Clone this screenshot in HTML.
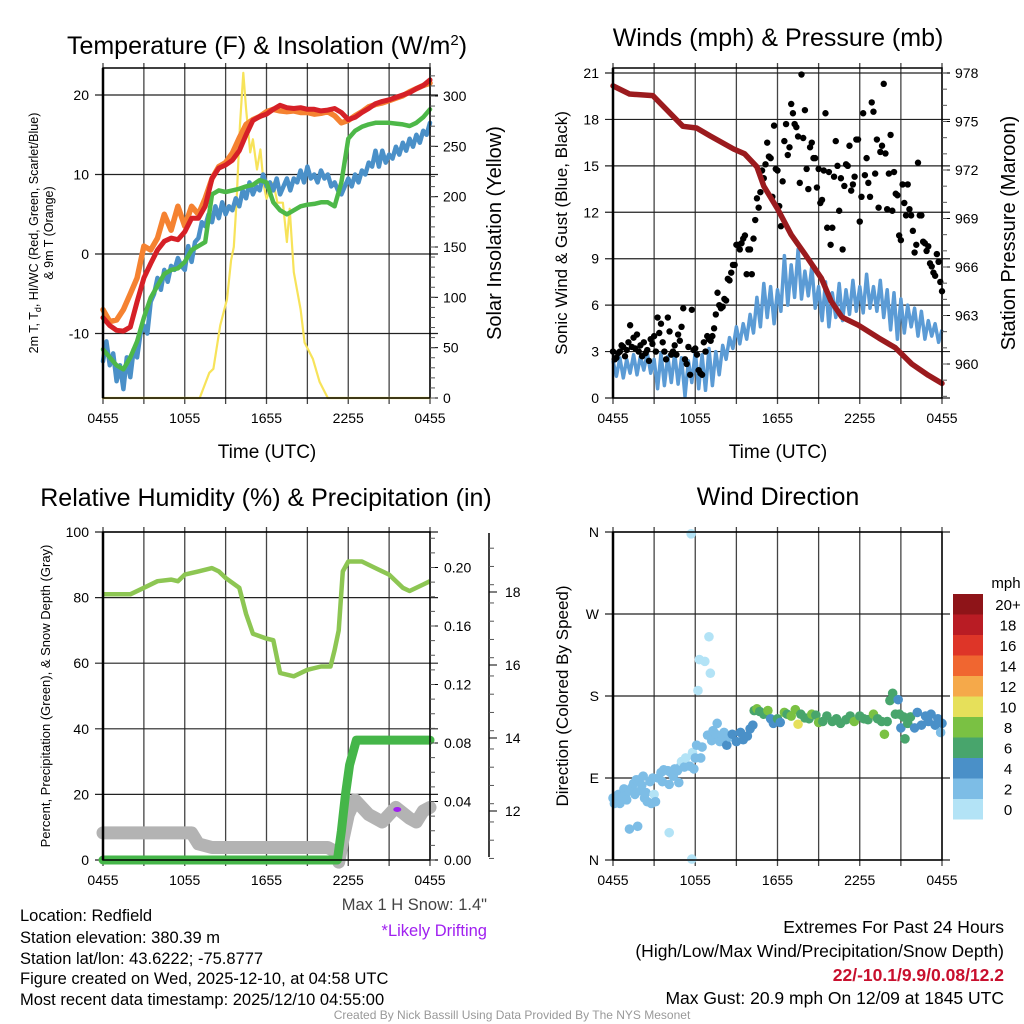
<!DOCTYPE html>
<html><head><meta charset="utf-8"><style>
html,body{margin:0;padding:0;background:#fff}
svg{display:block;font-family:"Liberation Sans",sans-serif}
</style></head><body>
<svg id="c" width="1024" height="1024" viewBox="0 0 1024 1024" xmlns="http://www.w3.org/2000/svg">
<g id="grid"></g><g id="marks"></g><g id="axes"></g>
<g font-size="25" text-anchor="middle" fill="#000">
<text x="267" y="54">Temperature (F) &amp; Insolation (W/m<tspan dy="-9" font-size="15">2</tspan><tspan dy="9">)</tspan></text>
<text x="778" y="46">Winds (mph) &amp; Pressure (mb)</text>
<text x="266" y="506">Relative Humidity (%) &amp; Precipitation (in)</text>
<text x="778" y="505">Wind Direction</text>
</g>
<g font-size="19" text-anchor="middle">
<text x="267" y="458">Time (UTC)</text>
<text x="778" y="458">Time (UTC)</text>
</g>
<text transform="translate(38,233) rotate(-90)" font-size="12.5" text-anchor="middle">2m T, T<tspan font-size="9" dy="3">d</tspan><tspan dy="-3">, HI/WC (Red, Green, Scarlet/Blue)</tspan></text>
<text transform="translate(53,233) rotate(-90)" font-size="12.5" text-anchor="middle">&amp; 9m T (Orange)</text>
<text transform="translate(501,233) rotate(-90)" font-size="20" text-anchor="middle">Solar Insolation (Yellow)</text>
<text transform="translate(567,233) rotate(-90)" font-size="17" text-anchor="middle">Sonic Wind &amp; Gust (Blue, Black)</text>
<text transform="translate(1015,233) rotate(-90)" font-size="20" text-anchor="middle">Station Pressure (Maroon)</text>
<text transform="translate(50,696) rotate(-90)" font-size="13" text-anchor="middle">Percent, Precipitation (Green), &amp; Snow Depth (Gray)</text>
<text transform="translate(568,696) rotate(-90)" font-size="17" text-anchor="middle">Direction (Colored By Speed)</text>
<g font-size="16.5">
<text x="20" y="921">Location: Redfield</text>
<text x="20" y="943">Station elevation: 380.39 m</text>
<text x="20" y="964">Station lat/lon: 43.6222; -75.8777</text>
<text x="20" y="984">Figure created on Wed, 2025-12-10, at 04:58 UTC</text>
<text x="20" y="1005">Most recent data timestamp: 2025/12/10 04:55:00</text>
<text x="487" y="910" text-anchor="end" fill="#444">Max 1 H Snow: 1.4"</text>
<text x="487" y="936" text-anchor="end" fill="#a020f0">*Likely Drifting</text>
</g>
<g font-size="17.5">
<text x="1004" y="933" text-anchor="end">Extremes For Past 24 Hours</text>
<text x="1004" y="957" text-anchor="end">(High/Low/Max Wind/Precipitation/Snow Depth)</text>
<text x="1004" y="981" text-anchor="end" fill="#c8102e" font-weight="bold">22/-10.1/9.9/0.08/12.2</text>
<text x="1004" y="1004" text-anchor="end">Max Gust: 20.9 mph On 12/09 at 1845 UTC</text>
</g>
<text x="512" y="1019" font-size="12" fill="#999" text-anchor="middle">Created By Nick Bassill Using Data Provided By The NYS Mesonet</text>
</svg>
<script>
// ---- data ----
const xTickLabels = ["0455","1055","1655","2255","0455"];
const tempRed = [-8,-9,-9.6,-9.7,-9.2,-6,-3,-1.2,0.5,1.6,2,1.8,2.8,4.5,4.5,6,9.5,10.8,11.2,11.8,13,15,16.8,17.3,17.6,18.2,18.7,18.4,18.3,18.4,18.2,18.2,18,18.1,18.3,17.8,16.9,17.2,17.8,18.3,18.9,19.2,19.4,19.7,20,20.3,20.8,21.2,21.9];
const tempOrange = [-7,-8.5,-8.3,-7,-5,-3,1,0.5,2,5,3,6,3.5,6,5,7,9.5,11,11.5,12.7,14.6,16.3,16.9,17.3,17.9,18.2,18,17.9,18,17.8,17.8,17.6,17.7,17.9,17.4,16.5,16.8,17.4,17.9,18.5,18.8,19,19.3,19.6,19.9,20.4,20.8,21.2,21.5];
const dewGreen = [-12,-13,-14,-14.5,-13,-11,-8,-5.5,-4,-2.5,-2,-1.8,-1,0.5,1,1.5,7.5,8,7.8,8,8.2,8.5,8.7,9.3,9,6.5,5.5,5,5.5,6,6.2,6.3,6.5,6.5,6,9,14.5,15.5,16,16.3,16.5,16.5,16.5,16.4,16.3,16.1,16.5,17.2,18.2];
const chillBlue = [-13.5,-11,-14,-12.5,-16,-14,-17,-13,-15.5,-12,-13,-10,-9,-10,-6,-5,-3,-4.5,-2,-3.5,-1.5,-2,-0.5,-1.5,-2,1,-1,1.5,2,4,3.5,5,4,6,4.5,6.5,5,6,5.5,7,6,8,7,9,7.5,8.5,8,10,8.5,9,8,9.5,7.5,8.5,9.5,8,9.5,9,10.5,9,11,9.5,10,9,10.5,9.5,10,8.5,9,8,7.5,8.5,9.5,8.5,10,9,10.5,10,11.5,11,13,11,13,11.5,12.5,12,13.5,12.5,14,13,14.5,13.5,15,14,15.5,15,16.5];
const solarT = [0,7.1,7.8,8.1,8.6,9.1,9.4,9.6,9.8,10.05,10.3,10.5,10.8,11.0,11.3,11.55,11.8,12,12.5,12.8,13.2,13.5,13.7,14,14.5,14.8,15.4,15.9,16.5,24];
const solarV = [0,0,25,29,72,98,137,150,194,270,323,287,244,257,227,247,211,198,214,194,194,155,188,125,88,55,39,16,0,0];
const windBlue = [2.4,1.4,2.6,1.3,2.5,1.6,2.8,1.5,2.7,1.8,2.9,1.6,2.5,0.6,2.9,0.8,2.7,1.0,2.9,0.9,2.6,0.1,2.4,1.0,3.0,0.6,2.8,0.5,3.2,0.8,3.0,1.5,3.4,2.5,3.9,3.2,4.6,3.5,4.8,3.8,5.4,4.2,6.5,4.6,7.4,5.2,7.2,4.8,7.0,5.6,9.2,6.0,8.6,6.5,9.6,6.4,8.2,6.6,8.5,5.8,7.2,5.0,7.5,4.6,6.8,5.2,7.4,5.0,7.0,5.4,7.6,5.6,7.2,5.5,8.0,5.8,7.2,5.6,7.6,5.2,7.0,4.4,6.8,3.8,6.4,4.2,6.0,4.6,5.8,4.0,5.6,3.8,5.0,4.0,4.8,3.6,4.4];
const gustA = [3,2.6,3,3.3,3.1,4.7,3.9,4.1,3.4,3.6,3.1,3.8,4,5.2,4.8,3,5.2,2.8,3.4,4.1,4.6,2.5,3.3,5.7,3.2,1.8,1.5,3,3.8,4,5.4,6,5.9,6.3,7.6,8.6,9.9,9.6,10.3,8,9.6,10.3,12.9,13.3,14.2,16.5,15.5,17.6,14.7,11.1,16.6,15.7,19,17.7,16.9,20.9,18.6,13.5,16.5,15.5,14.8,12.8,18.4,14.6,11,16.6,12.1,9.6,15.1,16.3,13.8,16.7,11.4,18.4,15.5,13,18.5,16.7,15.9,20.3,12.2,17,14.6,13.1,10.2,12.6,13.8,11.8,9.4,15.2,11.8,10,9.8,8.5,7.9,8.8,6.9];
const gustB = [2.5,2.9,3.4,2.7,3.6,3.3,3.2,3,2.7,2.9,2.4,3.5,3,4.2,3.6,2.5,4.3,3,2.8,3.7,5.8,2.2,1.5,3.1,2.8,1.6,3.6,4,3.7,4.5,6.8,5.8,6.4,7.7,8.1,8.6,9.9,10,10.5,9.6,8,11.5,12.3,14.7,15.1,15.6,13,14.8,12.4,14,17.7,16.2,18.4,17.5,13.9,16.8,14.8,16.2,15.5,13.6,12.6,14.7,11,9.9,14.3,15,14.2,13.7,15,13.4,14.3,16.7,13,14.4,13.9,19.1,14.5,12.3,16.3,15.8,14.5,12.1,13.2,10.5,13.8,11.8,12.2,10.8,9.9,11.8,10.1,9.5,8.7,8.1,9.3,7.5];
const presT = [0,1.2,2.9,5.1,6.1,7.1,8.8,9.6,10.5,11,12,13,14,15.2,15.9,16.7,17.9,19.4,20.6,21.8,23,24];
const presV = [977.2,976.7,976.6,974.7,974.6,974.1,973.3,973,972.2,971,969.6,968,966.8,965.3,963.9,962.9,962.4,961.6,961,960,959.3,958.8];
const rhT = [0,2,3,4,5,5.5,6,7,8,8.5,9,10,10.5,11,12,12.5,13,14,15,16,16.7,17,17.3,17.6,18,19,20,21,22,22.5,23.5,24];
const rhV = [81,81,83,85,85.5,85,87,88,89,88,86,83,75,69,67.5,67,57,56,58,59,59,64,70,88,91,91,89,87,83,82,84,85];
const precipT = [0,17.2,17.5,17.8,18.1,18.6,24];
const precipV = [0,0,0.02,0.045,0.065,0.082,0.082];
const snowT = [0,6.5,7,8,12,16.5,17,17.3,17.6,18,18.5,19.5,20.5,21,21.5,22.5,23,23.5,24];
const snowV = [11.4,11.4,11.1,11,11,11,10.9,10.6,11.2,11.9,12.3,11.9,11.7,11.9,12.1,11.8,11.7,12,12.1];
const dirT = [0,0.1,0.2,0.3,0.4,0.5,0.6,0.8,0.9,1.0,1.2,1.3,1.4,1.5,1.6,1.7,1.8,1.9,2.0,2.1,2.2,2.3,2.4,2.5,2.7,2.8,2.9,3.0,3.1,3.3,3.5,3.6,3.7,4.0,4.1,4.1,4.2,4.4,4.5,4.7,4.8,4.9,5.0,5.2,5.3,5.6,5.7,5.75,5.8,5.9,6.0,6.1,6.2,6.3,6.4,6.5,6.7,6.9,7.0,7.1,7.2,7.3,7.5,7.6,7.8,8.0,8.1,8.3,8.5,8.7,9.0,9.3,9.5,9.8,10.0,10.2,10.3,10.5,10.7,11.0,11.3,11.5,11.7,12.0,12.2,12.5,12.7,13.0,13.3,13.5,13.7,14.0,14.3,14.5,14.8,15.0,15.3,15.6,16.0,16.3,16.6,17.0,17.3,17.6,18.0,18.3,18.6,19.0,19.3,19.6,19.8,20.0,20.2,20.4,20.6,20.8,20.9,21.0,21.2,21.3,21.5,21.7,22.0,22.2,22.5,22.8,23.0,23.2,23.5,23.7,24,23.9];
const dirD = [68,62,70,66,72,62,69,78,70,66,34,76,80,84,72,88,37,88,76,82,92,68,74,64,86,62,90,72,64,90,96,86,99,98,83,30,96,92,100,98,85,102,108,102,112,103,358,1,118,100,112,126,186,220,112,124,218,137,245,205,131,142,138,150,130,134,140,126,135,138,130,140,132,136,144,148,164,166,163,160,164,155,150,155,151,162,160,158,165,149,160,156,155,160,159,151,152,158,152,155,150,154,158,152,158,155,154,160,155,152,138,152,175,183,160,176,160,145,157,133,150,157,145,162,148,158,152,160,148,155,150,140];
const dirS = [2,2,2,2,2,2,2,2,2,2,2,2,2,2,2,2,2,2,2,2,3,2,2,2,2,2,2,1,2,2,2,2,2,2,2,1,2,2,2,2,2,2,1,2,1,2,1,1,1,2,2,2,1,1,2,2,1,2,1,1,2,2,3,2,3,3,2,4,3,4,4,4,4,4,4,4,7,8,6,7,8,4,5,6,4,9,7,8,8,10,6,7,6,8,7,8,6,7,6,7,6,6,7,9,7,6,6,8,6,6,8,6,7,7,6,4,6,4,7,6,6,7,4,4,4,4,4,4,4,4,4,3];
const speedBins = ["0","2","4","6","8","10","12","14","16","18","20+"];
const speedColors = ["#b3e3f6","#7dbde6","#4a90c8","#48a56c","#7ac143","#e6e05a","#f5a94a","#f06630","#de3528","#b91c24","#8e1418"];

// ---- helpers ----
const NS="http://www.w3.org/2000/svg";
const G=document.getElementById('grid'),M=document.getElementById('marks'),A=document.getElementById('axes');
function mk(tag,parent,attrs){const e=document.createElementNS(NS,tag);for(const k in attrs)e.setAttribute(k,attrs[k]);parent.appendChild(e);return e;}
function lin(d0,d1,r0,r1){return v=>r0+(v-d0)*(r1-r0)/(d1-d0);}
function evenT(n){const a=[];for(let i=0;i<n;i++)a.push(i*24/(n-1));return a;}
function pathD(ts,vs,xs,ys){return ts.map((t,i)=>(i?'L':'M')+xs(t).toFixed(1)+' '+ys(vs[i]).toFixed(1)).join(' ');}
function txt(parent,x,y,s,anchor,size){const e=mk('text',parent,{x:x,y:y,'text-anchor':anchor,'font-size':size||14});e.textContent=s;return e;}

function panel(x0,x1,yT,yB,yTicks,yLab,yS,name){
  const xs=lin(0,24,x0,x1);
  for(let t=0;t<=24;t+=3){const l=mk('line',G,{x1:xs(t),x2:xs(t),y1:yT-5,y2:yB+6,stroke:'#444','stroke-width':1.3});
    }
  yTicks.forEach((v,i)=>{const y=yS(v);const l=mk('line',G,{x1:x0-8,x2:x1+8,y1:y,y2:y,stroke:'#222','stroke-width':1.2});
    
    const tx=txt(A,x0-14,y+5,yLab[i],'end');});
  const f=mk('rect',A,{x:x0,y:yT,width:x1-x0,height:yB-yT,fill:'none',stroke:'#000','stroke-width':1.5});
  
  const yl=mk('line',A,{x1:x0,x2:x0,y1:yT,y2:yB,stroke:'#000','stroke-width':2.5});
  
  xTickLabels.forEach((s,i)=>{const tx=txt(A,xs(i*6),yB+25,s,'middle');});
  return xs;
}
function rightAxis(x,yT,yB,ticks,labels,ys,minorStep,lo,hi,name,lx){
  ticks.forEach((v,i)=>{const y=ys(v);mk('line',A,{x1:x,x2:x+8,y1:y,y2:y,stroke:'#000'});
    const tx=txt(A,lx||x+13,y+5,labels[i],'start');});
  for(let v=lo;v<=hi+1e-9;v+=minorStep){const y=ys(v);if(y>=yT-1&&y<=yB+1)mk('line',A,{x1:x,x2:x+5,y1:y,y2:y,stroke:'#555'});}
}

// ---- Panel 1: temperature ----
const yT1=lin(0,10,254,174.5);
const xs1=panel(103,430,68,398,[-10,0,10,20],["-10","0","10","20"],yT1,'temp');
const yS1=lin(0,300,398,96);
rightAxis(430,68,398,[0,50,100,150,200,250,300],["0","50","100","150","200","250","300"],yS1,10,0,330,'solar');
const t49=evenT(49);
const t97=evenT(97);
[['solar',solarT,solarV,yS1,'#f7e35a',2.2],['orange-9m-temp',t49,tempOrange,yT1,'#f58231',5.5],['blue-windchill',t97,chillBlue,yT1,'#4a90c8',4.5],['green-dewpoint',t49,dewGreen,yT1,'#4db848',4.5],['red-temp',t49,tempRed,yT1,'#d62027',5]].forEach(s=>{
  const p=mk('path',M,{d:pathD(s[1],s[2],xs1,s[3]),fill:'none',stroke:s[4],'stroke-width':s[5],'stroke-linejoin':'round','stroke-linecap':'round'});
  });

// ---- Panel 2: winds ----
const yW=lin(0,21,398,73);
const xs2=panel(613,942,68,398,[0,3,6,9,12,15,18,21],["0","3","6","9","12","15","18","21"],yW,'wind');
const yP=lin(960,978,364,73);
rightAxis(942,68,398,[960,963,966,969,972,975,978],["960","963","966","969","972","975","978"],yP,1,957,979,'pressure');
{const p=mk('path',M,{d:pathD(t97,windBlue,xs2,yW),fill:'none',stroke:'#5b9bd5','stroke-width':3.5,'stroke-linejoin':'round'});
}
const tg=evenT(gustA.length);
gustA.forEach((v,i)=>{const c=mk('circle',M,{cx:xs2(tg[i]),cy:yW(v),r:3.2,fill:'#000'});
});
gustB.forEach((v,i)=>{const c=mk('circle',M,{cx:xs2(tg[i]+0.125),cy:yW(v),r:3.2,fill:'#000'});
});
{const p=mk('path',M,{d:pathD(presT,presV,xs2,yP),fill:'none',stroke:'#9b1b1e','stroke-width':5.5,'stroke-linejoin':'round','stroke-linecap':'round'});
}

// ---- Panel 3: humidity ----
const yR=lin(0,100,860,532);
const xs3=panel(103,430,532,860,[0,20,40,60,80,100],["0","20","40","60","80","100"],yR,'humidity');
const yPr=lin(0,0.2,860,567.5);
rightAxis(430,532,860,[0,0.04,0.08,0.12,0.16,0.20],["0.00","0.04","0.08","0.12","0.16","0.20"],yPr,0.01,0,0.22,'precip',444);
const ySn=lin(12,14,811,738);
mk('line',A,{x1:489,x2:489,y1:533,y2:857,stroke:'#000','stroke-width':1.5});
rightAxis(489,532,860,[12,14,16,18],["12","14","16","18"],ySn,0.5,10.7,19.6,'snow',505);
{const p=mk('path',M,{d:pathD(rhT,rhV,xs3,yR),fill:'none',stroke:'#8dc653','stroke-width':4.5,'stroke-linejoin':'round'});
}
{const p=mk('path',M,{d:pathD(snowT,snowV,xs3,ySn),fill:'none',stroke:'#b3b3b3','stroke-width':13,'stroke-linejoin':'round','stroke-linecap':'round'});
}
{const p=mk('path',M,{d:pathD(precipT,precipV,xs3,yPr),fill:'none',stroke:'#45b649','stroke-width':9,'stroke-linejoin':'round','stroke-linecap':'round'});
}
{const c=mk('ellipse',M,{cx:xs3(21.6),cy:ySn(12.04),rx:4,ry:2.5,fill:'#a020f0'});
}

// ---- Panel 4: wind direction ----
const yD=lin(0,360,860,532);
const xs4=panel(613,942,532,860,[0,90,180,270,360],["N","E","S","W","N"],yD,'direction');
dirT.forEach((t,i)=>{const bin=Math.min(10,Math.floor(dirS[i]/2));
  const c=mk('circle',M,{cx:xs4(t),cy:yD(dirD[i]),r:4.8,fill:speedColors[bin]});
  });
{const lt=txt(A,1006,588,'mph','middle',15);}
speedBins.forEach((s,i)=>{const y=594+(10-i)*20.5;
  const r=mk('rect',A,{x:953,y:y,width:30,height:20.5,fill:speedColors[i]});
  
  const t=txt(A,1008,y+16,s,'middle',15);});
</script>
</body></html>
